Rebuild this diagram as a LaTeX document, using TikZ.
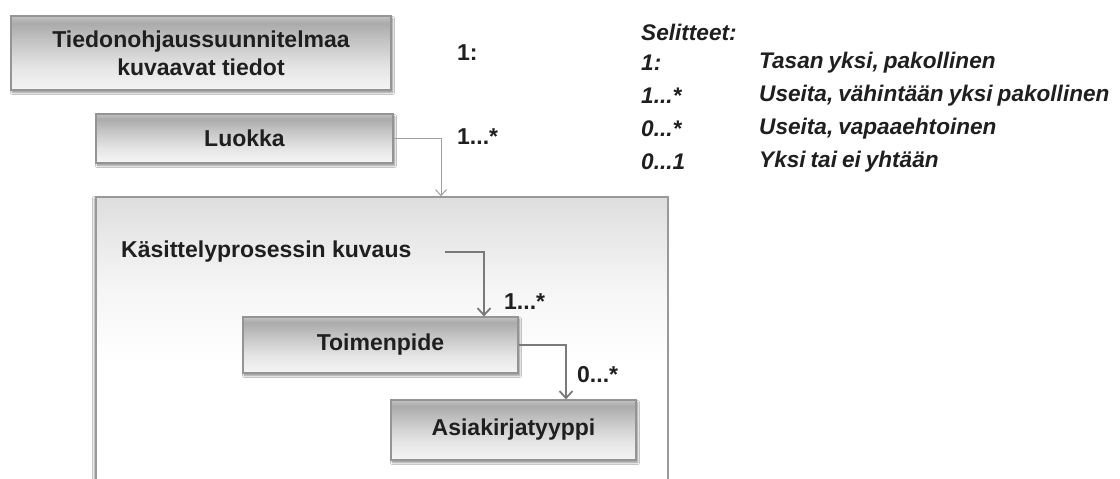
\documentclass[tikz,border=0pt]{standalone}
\usepackage{fontspec}
\setmainfont{Liberation Sans}
\usetikzlibrary{arrows.meta,shadows.blur,calc}

% Box fill: grey band near the top, fading towards the bottom
\pgfdeclareverticalshading{boxshade}{100bp}{%
  color(0bp)=(black!4); color(25bp)=(black!4); color(40bp)=(black!10);
  color(58bp)=(black!23); color(70bp)=(black!33); color(75bp)=(black!24);
  color(100bp)=(black!24)}
% Container fill: light grey at the top, white further down
\pgfdeclareverticalshading{frameshade}{100bp}{%
  color(0bp)=(white); color(50bp)=(white); color(62bp)=(black!4);
  color(75bp)=(black!13); color(100bp)=(black!13)}

% legend lettering: bold italic with slightly tight word spacing
\newcommand{\legendletters}{\fontsize{22.6}{26}\selectfont\bfseries\itshape
  \spaceskip=0.22em plus 0.1em\relax}

\tikzset{
  txt/.style={text=black!88, font=\fontsize{23}{28}\selectfont\bfseries},
  legend/.style={text=black!88, font=\legendletters,
    anchor=west, inner sep=0pt},
  card/.style={txt, draw=black!42, line width=1.2pt, shading=boxshade,
    align=center, inner sep=0pt,
    blur shadow={shadow xshift=1.5pt, shadow yshift=-2.5pt,
      shadow blur steps=6, shadow opacity=45}},
  frame/.style={draw=black!40, line width=1.5pt, shading=frameshade,
    inner sep=0pt,
    blur shadow={shadow xshift=-1.5pt, shadow yshift=-1.5pt,
      shadow blur steps=6, shadow opacity=35}},
  mult/.style={txt, anchor=west, inner sep=0pt},
  thinlink/.style={draw=black!38, line width=1pt,
    -{Straight Barb[length=6pt,width=11pt]}},
  link/.style={draw=black!52, line width=1.8pt,
    -{Straight Barb[length=7pt,width=13pt,line width=1.8pt]}},
}

\begin{document}
\begin{tikzpicture}[x=1pt,y=-1pt]
  \clip (0,0) rectangle (1120,479);
  \fill[white] (0,0) rectangle (1120,479);

  % container for the processing description
  \node[frame, minimum width=572pt, minimum height=333pt] (cont) at (382,363.5) {};

  % top-level boxes
  \node[card, minimum width=380pt, minimum height=74pt] (tos) at (201,53)
    {Tiedonohjaussuunnitelmaa\\kuvaavat tiedot};
  \node[card, minimum width=297pt, minimum height=49pt] (luokka) at (244.5,138.5) {Luokka};

  % inside the container
  \node[txt, anchor=west, inner sep=0pt] (kas) at (121,252) {Käsittelyprosessin kuvaus};
  \node[card, minimum width=275pt, minimum height=56pt] (toim) at (380.5,345) {Toimenpide};
  \node[card, minimum width=245pt, minimum height=60pt] (asia) at (513.5,430) {Asiakirjatyyppi};

  % connectors
  \draw[thinlink] (luokka.east) -| ([xshift=59pt]cont.north);
  \draw[link] ([xshift=33pt]kas.east) -| ([xshift=103.5pt]toim.north);
  \draw[link] (toim.east) -| ([xshift=52.5pt]asia.north);

  % multiplicities
  \node[mult] (m1) at (457,53) {1:};
  \node[mult] (m2) at (457,137) {1...*};
  \node[mult] (m3) at (504,302) {1...*};
  \node[mult] (m4) at (577,375) {0...*};

  % legend
  \node[legend] (lt) at (641,32) {Selitteet:};
  \node[legend] (l1a) at (641,63)  {1:};
  \node[legend] (l1b) at (759,63)  {Tasan yksi, pakollinen};
  \node[legend] (l2a) at (641,96)  {1...*};
  \node[legend] (l2b) at (759,96)  {Useita, vähintään yksi pakollinen};
  \node[legend] (l3a) at (641,129) {0...*};
  \node[legend] (l3b) at (759,129) {Useita, vapaaehtoinen};
  \node[legend] (l4a) at (641,162) {0...1};
  \node[legend] (l4b) at (759,162) {Yksi tai ei yhtään};
\end{tikzpicture}
\end{document}
